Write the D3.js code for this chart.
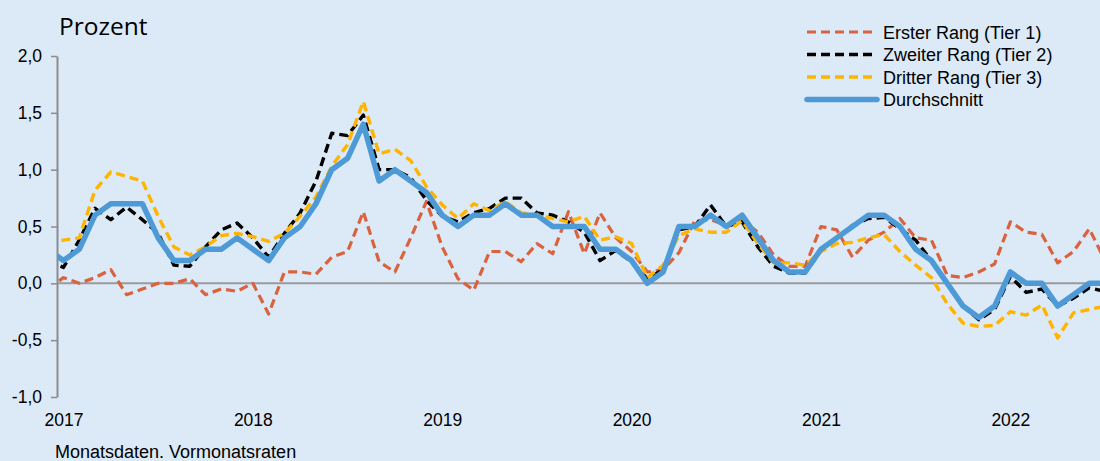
<!DOCTYPE html>
<html>
<head>
<meta charset="utf-8">
<script src="https://cdn.jsdelivr.net/npm/d3@7"></script>
<style>
  body { margin: 0; background: #dce9f7; }
  svg { display: block; font-family: "Liberation Sans", Arial, sans-serif; }
</style>
</head>
<body>
<div class="chart"></div>
<script>
// months: Dez 2016 .. Jul 2022 (first and last point are cut off by the plot edges)
const months = d3.timeMonth.range(new Date(2016, 11, 1), new Date(2022, 7, 1))

const tier1 = [-0.05,
  0.05, 0.0, 0.05, 0.12, -0.1, -0.05, 0.0, 0.0, 0.04, -0.1, -0.05, -0.07,
  0.0, -0.27, 0.1, 0.1, 0.08, 0.23, 0.28, 0.63, 0.19, 0.1, 0.4, 0.72,
  0.32, 0.04, -0.06, 0.28, 0.28, 0.19, 0.35, 0.26, 0.63, 0.26, 0.62, 0.4,
  0.28, 0.1, 0.12, 0.27, 0.55, 0.56, 0.51, 0.56, 0.45, 0.25, 0.15, 0.15,
  0.5, 0.47, 0.23, 0.38, 0.45, 0.57, 0.4, 0.38, 0.07, 0.05, 0.1, 0.17,
  0.54, 0.45, 0.43, 0.18, 0.28, 0.48, 0.2]

const tier2 = [0.2,
  0.14, 0.38, 0.66, 0.56, 0.67, 0.56, 0.44, 0.16, 0.15, 0.32, 0.47, 0.53,
  0.4, 0.23, 0.44, 0.62, 0.9, 1.32, 1.3, 1.48, 1.0, 1.0, 0.93, 0.73,
  0.59, 0.54, 0.62, 0.66, 0.75, 0.75, 0.62, 0.6, 0.54, 0.45, 0.2, 0.29,
  0.19, 0.04, 0.12, 0.47, 0.5, 0.69, 0.5, 0.54, 0.32, 0.15, 0.09, 0.09,
  0.29, 0.4, 0.51, 0.57, 0.58, 0.48, 0.38, 0.2, 0.0, -0.2, -0.32, -0.23,
  0.06, -0.08, -0.05, -0.2, -0.13, -0.04, -0.07]

const tier3 = [0.35,
  0.38, 0.4, 0.82, 0.98, 0.94, 0.9, 0.59, 0.32, 0.25, 0.32, 0.42, 0.44,
  0.41, 0.37, 0.44, 0.59, 0.76, 1.03, 1.22, 1.6, 1.14, 1.18, 1.08, 0.85,
  0.69, 0.57, 0.7, 0.64, 0.72, 0.62, 0.6, 0.57, 0.54, 0.59, 0.38, 0.41,
  0.35, 0.05, 0.16, 0.42, 0.48, 0.45, 0.45, 0.55, 0.35, 0.18, 0.18, 0.16,
  0.28, 0.35, 0.36, 0.4, 0.43, 0.28, 0.16, 0.05, -0.18, -0.35, -0.38, -0.37,
  -0.25, -0.28, -0.19, -0.48, -0.26, -0.23, -0.2]

const average = [0.3,
  0.2, 0.3, 0.6, 0.7, 0.7, 0.7, 0.4, 0.2, 0.2, 0.3, 0.3, 0.4,
  0.3, 0.2, 0.4, 0.5, 0.7, 1.0, 1.1, 1.4, 0.9, 1.0, 0.9, 0.8,
  0.6, 0.5, 0.6, 0.6, 0.7, 0.6, 0.6, 0.5, 0.5, 0.5, 0.3, 0.3,
  0.2, 0.0, 0.1, 0.5, 0.5, 0.6, 0.5, 0.6, 0.4, 0.2, 0.1, 0.1,
  0.3, 0.4, 0.5, 0.6, 0.6, 0.5, 0.3, 0.2, 0.0, -0.2, -0.3, -0.2,
  0.1, 0.0, 0.0, -0.2, -0.1, 0.0, 0.0]

const yTicks = [-1, -0.5, 0, 0.5, 1, 1.5, 2]
const years = ["2017", "2018", "2019", "2020", "2021", "2022"]
const names = ["Erster Rang (Tier 1)", "Zweiter Rang (Tier 2)", "Dritter Rang (Tier 3)", "Durchschnitt"]

const width = 1100
const height = 461
const plot = {left: 57, right: 1100, top: 56, bottom: 397}

const series = [
  {name: names[0], values: tier1, color: "#da623d", width: 3.2, dash: "9,5"},
  {name: names[1], values: tier2, color: "#000000", width: 3.4, dash: "9,5"},
  {name: names[2], values: tier3, color: "#ffb400", width: 3.4, dash: "9,5"},
  {name: names[3], values: average, color: "#4d9ad6", width: 5.5, dash: null}
]

const de = d3.formatLocale({decimal: ",", thousands: ".", grouping: [3], currency: ["", " €"], minus: "-"})
const fmt = de.format(".1f")

const svg = d3.select(".chart").append("svg")
    .attr("width", width)
    .attr("height", height)

svg.append("rect")
    .attr("width", width)
    .attr("height", height)
    .attr("fill", "#dce9f7")

// index 0 = Jan 2017, spacing ~15.78px
const x = d3.scaleLinear()
    .domain([-0.41, 65.68])
    .range([plot.left, plot.right])

const y = d3.scaleLinear()
    .domain([-1, 2])
    .range([plot.bottom, plot.top])

svg.append("clipPath")
    .attr("id", "clip")
  .append("rect")
    .attr("x", plot.left)
    .attr("y", 0)
    .attr("width", plot.right - plot.left)
    .attr("height", height)

// zero line
svg.append("line")
    .attr("x1", plot.left)
    .attr("x2", plot.right)
    .attr("y1", y(0))
    .attr("y2", y(0))
    .attr("stroke", "#9a9a9a")
    .attr("stroke-width", 2)

const yAxis = d3.axisLeft(y)
    .tickValues(yTicks)
    .tickSize(6)
    .tickSizeOuter(0)
    .tickPadding(9)
    .tickFormat(fmt)

svg.append("g")
    .attr("class", "y-axis")
    .attr("transform", `translate(${plot.left},0)`)
    .call(yAxis)
    .call(g => g.select(".domain").attr("stroke", "#8c8c8c").attr("stroke-width", 2))
    .call(g => g.selectAll(".tick line").attr("stroke", "#8c8c8c").attr("stroke-width", 1.5))
    .call(g => g.selectAll(".tick text")
        .attr("fill", "#000")
        .style("font-size", "17.5px")
        .style("font-family", "'Liberation Sans', Arial, sans-serif"))

const xAxis = d3.axisBottom(x)
    .tickValues(years.map((d, i) => i * 12))
    .tickSize(0)
    .tickPadding(16.5)
    .tickFormat((d, i) => years[i])

svg.append("g")
    .attr("class", "x-axis")
    .attr("transform", `translate(0,${plot.bottom})`)
    .call(xAxis)
    .call(g => g.select(".domain").remove())
    .call(g => g.selectAll(".tick text")
        .attr("fill", "#000")
        .style("font-size", "17.5px")
        .style("font-family", "'Liberation Sans', Arial, sans-serif"))

const line = d3.line()
    .x((d, i) => x(i - 1))
    .y(d => y(d))

svg.append("g")
    .attr("clip-path", "url(#clip)")
  .selectAll("path")
  .data(series)
  .join("path")
    .attr("d", d => line(d.values))
    .attr("fill", "none")
    .attr("stroke", d => d.color)
    .attr("stroke-width", d => d.width)
    .attr("stroke-dasharray", d => d.dash)
    .attr("stroke-linejoin", "round")

// legend
const legend = svg.append("g")
    .attr("transform", "translate(807,32)")

const item = legend.selectAll("g")
  .data(series)
  .join("g")
    .attr("transform", (d, i) => `translate(0,${i * 22.5})`)

item.append("line")
    .attr("x1", 0)
    .attr("x2", 70)
    .attr("stroke", d => d.color)
    .attr("stroke-width", d => d.width)
    .attr("stroke-dasharray", d => d.dash)
    .attr("stroke-linecap", d => d.dash ? "butt" : "round")

item.append("text")
    .attr("x", 76)
    .attr("y", 6.5)
    .text(d => d.name)
    .style("font-size", "18px")
    .attr("fill", "#000")

svg.append("text")
    .attr("x", 59)
    .attr("y", 35)
    .text("Prozent")
    .style("font-family", "'Open Sans', sans-serif")
    .style("font-size", "24.5px")
    .attr("fill", "#000")

svg.append("text")
    .attr("x", 55)
    .attr("y", 458)
    .text("Monatsdaten. Vormonatsraten")
    .style("font-size", "18px")
    .attr("fill", "#000")
</script>
</body>
</html>
